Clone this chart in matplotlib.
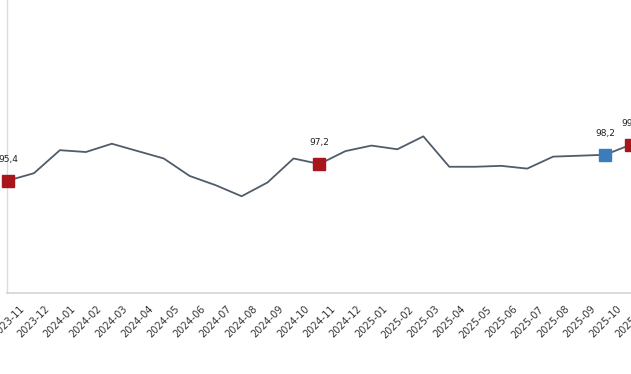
import matplotlib
matplotlib.use("Agg")
import matplotlib.pyplot as plt

categories = ["2023-11", "2023-12", "2024-01", "2024-02", "2024-03", "2024-04",
              "2024-05", "2024-06", "2024-07", "2024-08", "2024-09", "2024-10",
              "2024-11", "2024-12", "2025-01", "2025-02", "2025-03", "2025-04",
              "2025-05", "2025-06", "2025-07", "2025-08", "2025-09", "2025-10",
              "2025-11"]
values = [95.4, 96.2, 98.7, 98.5, 99.4, 98.6,
          97.8, 95.9, 94.9, 93.7, 95.2, 97.8,
          97.2, 98.6, 99.2, 98.8, 100.2, 96.9,
          96.9, 97.0, 96.7, 98.0, 98.1, 98.2,
          99.3]
highlight_red = ["2023-11", "2024-11", "2025-11"]
highlight_blue = ["2025-10"]

plt.rcParams["font.family"] = ["DejaVu Sans"]

fig = plt.figure(figsize=(6.31, 3.74), dpi=100)
ax = fig.add_axes([0.0106, 0.2166, 0.9894, 0.7834])

x = list(range(len(categories)))
ax.plot(x, values, color="#4f5c6a", lw=1.3, zorder=2, clip_on=False)

red_c, blue_c = "#a8161c", "#3b7dbb"
for i, (c, v) in enumerate(zip(categories, values)):
    if c in highlight_red or c in highlight_blue:
        col = red_c if c in highlight_red else blue_c
        ax.plot([i], [v], marker="s", markersize=8, color=col,
                markeredgecolor=col, zorder=3, clip_on=False)
        ax.annotate(f"{v:.1f}".replace(".", ","), (i, v),
                    xytext=(0, 12), textcoords="offset points",
                    ha="center", va="bottom", fontsize=6.5,
                    color="#222222", annotation_clip=False)

ax.set_xlim(-0.05, 23.87)
ax.set_ylim(83.2, 115.0)
ax.set_xticks(x)
ax.set_xticklabels(categories, rotation=45, ha="center", fontsize=7,
                   color="#333333")
ax.tick_params(axis="x", length=0, pad=8)
ax.set_yticks([])
for s in ["top", "right"]:
    ax.spines[s].set_visible(False)
ax.spines["left"].set_color("#dcdcdc")
ax.spines["bottom"].set_color("#d4d4d4")
ax.spines["left"].set_linewidth(1.0)
ax.spines["bottom"].set_linewidth(1.2)

fig.savefig("out.png", dpi=100)
